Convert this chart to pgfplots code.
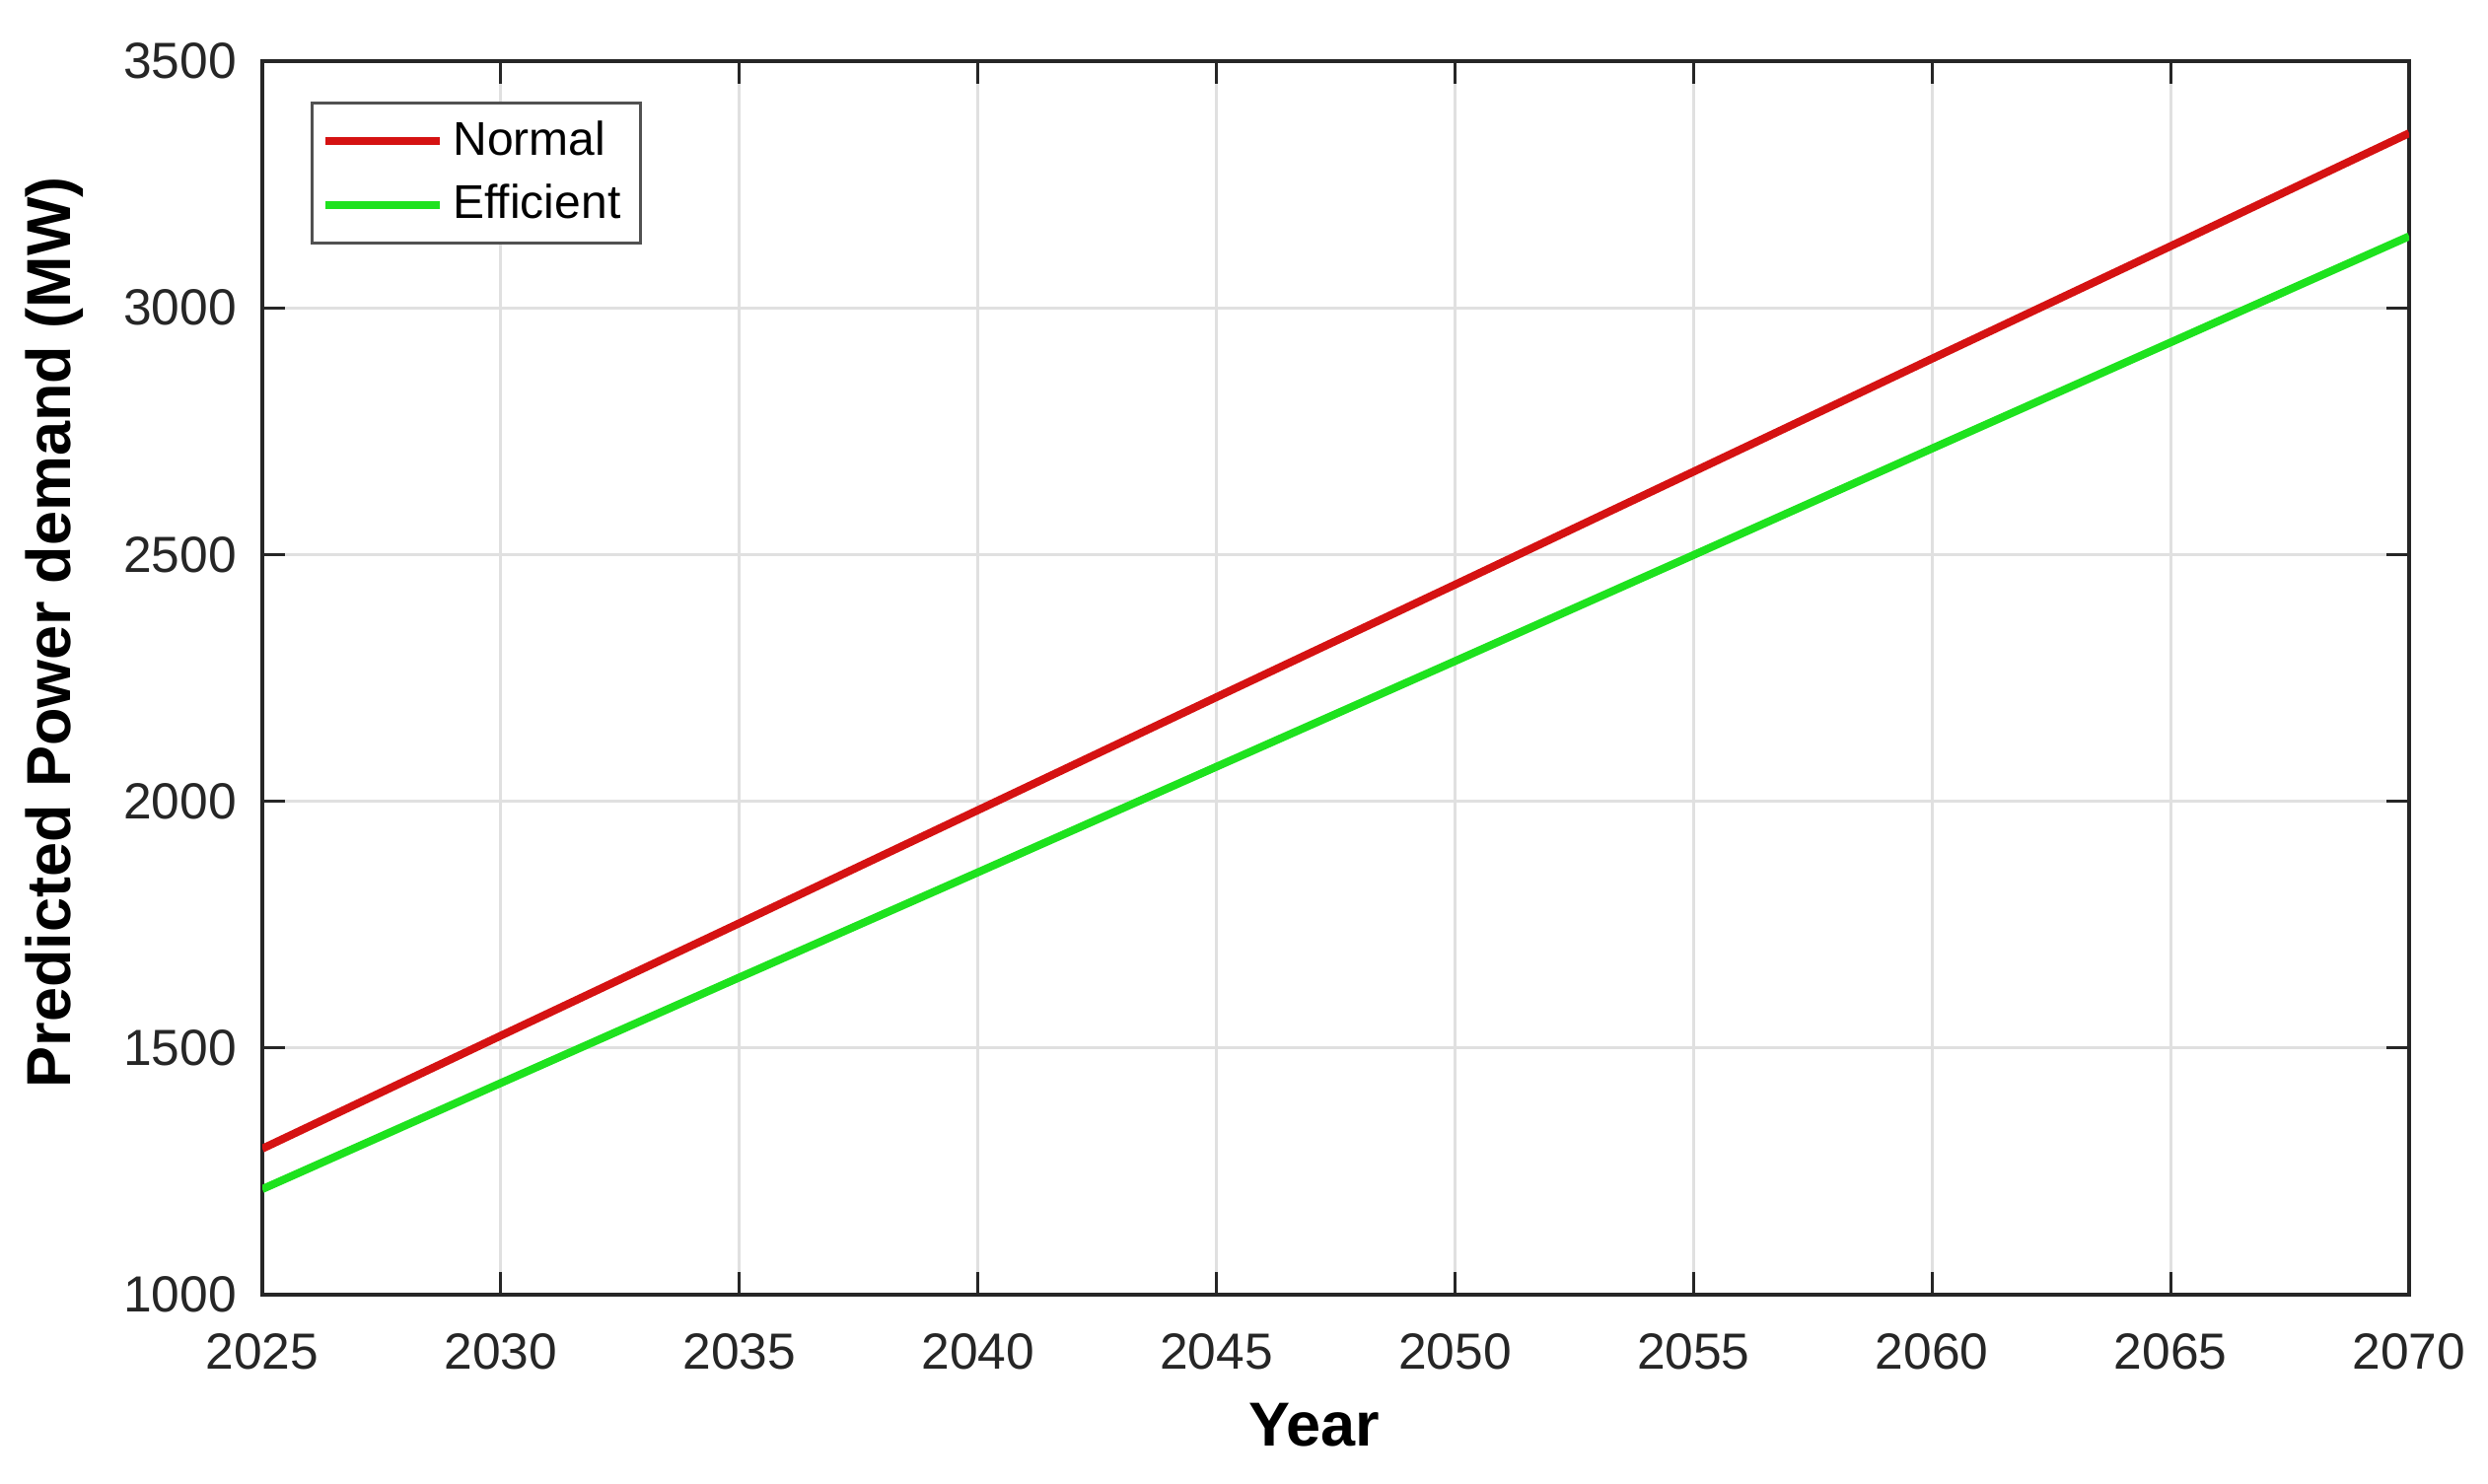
\documentclass[border=0pt]{standalone}
\usepackage{fontspec}
\setmainfont{Liberation Sans}
\usepackage{pgfplots}
\pgfplotsset{compat=1.18}
\definecolor{nred}{RGB}{213,18,18}
\definecolor{egreen}{RGB}{30,226,30}
\definecolor{frame}{RGB}{38,38,38}
\begin{document}
\begin{tikzpicture}
\useasboundingbox (-53.2pt,-38.2pt) rectangle (451.4pt,262.6pt);
\begin{axis}[
  width=435.4pt, height=250.2pt, scale only axis,
  xmin=2025, xmax=2070, ymin=1000, ymax=3500,
  xtick={2025,2030,...,2070}, ytick={1000,1500,...,3500},
  /pgf/number format/assume math mode=true,
  /pgf/number format/set thousands separator={},
  tick label style={font=\fontsize{10.3}{12}\selectfont, text=frame},
  xticklabel style={yshift=-4.4pt},
  yticklabel style={xshift=-1.7pt},
  grid=major, major grid style={color=black!12, line width=0.6pt},
  axis line style={color=frame, line width=0.8pt},
  tick style={color=frame, line width=0.6pt},
  tick align=inside, major tick length=4.6pt,
  xlabel={Year},
  xlabel style={font=\bfseries\fontsize{12.6}{14}\selectfont, at={(axis description cs:0.49,-0.123)}, anchor=base},
  ylabel={Predicted Power demand (MW)},
  ylabel style={font=\bfseries\fontsize{12.6}{14}\selectfont, at={(axis description cs:-0.097,0.537)}, anchor=center},
  legend style={at={(axis description cs:0.0225,0.967)}, anchor=north west, draw=frame!80, line width=0.6pt,
    font=\fontsize{9.6}{11}\selectfont, cells={anchor=west}, row sep=0.5pt, inner xsep=2pt, inner ysep=1.5pt},
  legend image code/.code={\draw[#1,line width=1.6pt] (0pt,0pt) -- (23pt,0pt);},
]
\addplot[nred, line width=1.6pt] coordinates {
(2025,1296) (2030,1525) (2035,1753) (2040,1982) (2045,2211) (2050,2439) (2055,2668) (2060,2897) (2065,3125) (2070,3354)};
\addlegendentry{Normal}
\addplot[egreen, line width=1.6pt] coordinates {
(2025,1214) (2030,1429) (2035,1643) (2040,1856) (2045,2070) (2050,2284) (2055,2499) (2060,2715) (2065,2930) (2070,3145)};
\addlegendentry{Efficient}
\end{axis}
\end{tikzpicture}
\end{document}
